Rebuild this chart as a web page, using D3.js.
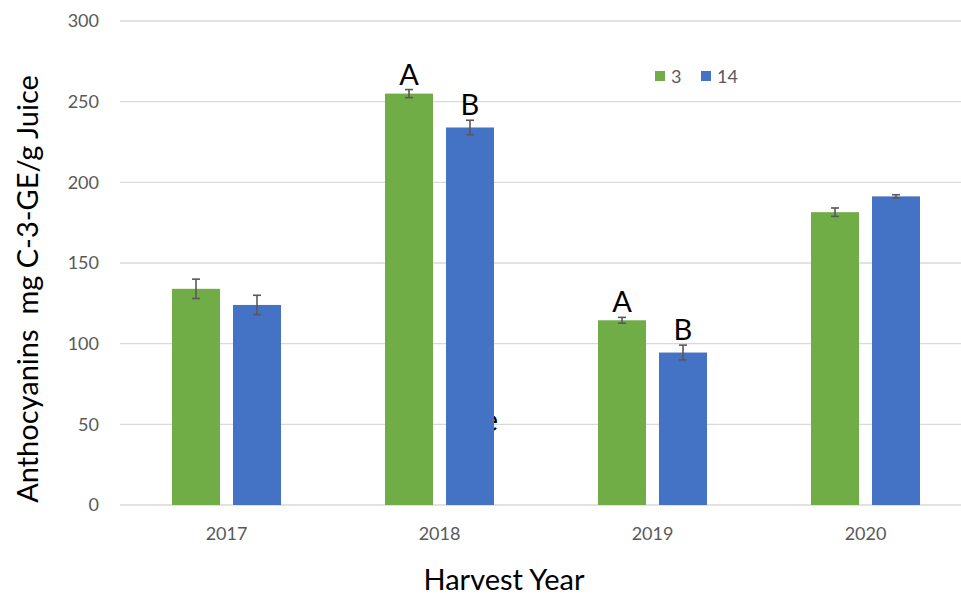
<!DOCTYPE html>
<html>
<head>
<meta charset="utf-8">
<script src="https://cdn.jsdelivr.net/npm/d3@7"></script>
<style>
  html, body { margin: 0; padding: 0; background: #fff; }
  svg { display: block; }
</style>
</head>
<body>
<svg id="chart" width="961" height="595"></svg>
<script>
// Harvest years and the two treatment series (mean anthocyanin content)
const years = ["2017", "2018", "2019", "2020"];
const seriesNames = ["3", "14"];
const values3 = [134, 255, 114.5, 181.5];
const values14 = [124, 234, 94.5, 191.3];
const errors3 = [6, 2.5, 1.8, 2.6];
const errors14 = [6, 4.5, 4.6, 1];
// Significance letters per year: [label over "3", label over "14"]
const letters = [null, ["A", "B"], ["A", "B"], null];
const yTicks = [0, 50, 100, 150, 200, 250, 300];

const colors = { "3": "#70AD47", "14": "#4472C4" };
const font = "Lato, 'Open Sans', sans-serif";

const svg = d3.select("#chart");
const W = 961;

// Category bands run past the right edge, so the last band is clipped like the original plot area
const x = d3.scaleBand().domain(years).range([120, 972]);
const xs = d3.scaleBand().domain(seriesNames).range([52, 161]).paddingInner(0.213).paddingOuter(0);
const y = d3.scaleLinear().domain([0, 300]).range([505, 21]);

// Gridlines
svg.append("g")
  .selectAll("line")
  .data(yTicks)
  .join("line")
  .attr("x1", 120).attr("x2", W)
  .attr("y1", d => y(d)).attr("y2", d => y(d))
  .attr("stroke", "#D9D9D9").attr("stroke-width", 1.3);

// Y axis tick labels
const yAxis = d3.axisLeft(y).tickValues(yTicks).tickSize(0).tickPadding(0);
const gy = svg.append("g").attr("transform", "translate(99,0)").call(yAxis);
gy.select(".domain").remove();
gy.selectAll("text")
  .attr("font-family", font).attr("font-size", 18).attr("fill", "#595959");

// X axis tick labels
const xAxis = d3.axisBottom(x).tickSize(0).tickPadding(0);
const gx = svg.append("g").attr("transform", "translate(0,527)").call(xAxis);
gx.select(".domain").remove();
gx.selectAll("text")
  .attr("font-family", font).attr("font-size", 18).attr("fill", "#595959");

// Stray glyph partly hidden behind the 2018 "14" bar
svg.append("text")
  .attr("x", x("2018") + xs("14") + xs.bandwidth() + 4)
  .attr("y", 431)
  .attr("text-anchor", "end")
  .attr("font-family", font).attr("font-size", 30).attr("fill", "#000")
  .text("e");

// Bars
const rows = years.map((yr, i) => ({
  year: yr,
  items: [
    { key: "3", v: values3[i], e: errors3[i] },
    { key: "14", v: values14[i], e: errors14[i] }
  ]
}));

const groups = svg.append("g").selectAll("g")
  .data(rows).join("g")
  .attr("transform", d => `translate(${x(d.year)},0)`);

groups.selectAll("rect")
  .data(d => d.items).join("rect")
  .attr("x", d => xs(d.key))
  .attr("width", xs.bandwidth())
  .attr("y", d => y(d.v))
  .attr("height", d => y(0) - y(d.v))
  .attr("fill", d => colors[d.key]);

// Error bars
const eb = groups.selectAll("g.err")
  .data(d => d.items).join("g").attr("class", "err")
  .attr("stroke", "#595959").attr("stroke-width", 1.6);
eb.append("line")
  .attr("x1", d => xs(d.key) + xs.bandwidth() / 2)
  .attr("x2", d => xs(d.key) + xs.bandwidth() / 2)
  .attr("y1", d => y(d.v + d.e)).attr("y2", d => y(d.v - d.e));
[1, -1].forEach(s => {
  eb.append("line")
    .attr("x1", d => xs(d.key) + xs.bandwidth() / 2 - 4)
    .attr("x2", d => xs(d.key) + xs.bandwidth() / 2 + 4)
    .attr("y1", d => y(d.v + s * d.e)).attr("y2", d => y(d.v + s * d.e));
});

// Significance letters
rows.forEach((r, i) => {
  if (!letters[i]) return;
  r.items.forEach((it, j) => {
    svg.append("text")
      .attr("x", x(r.year) + xs(it.key) + xs.bandwidth() / 2)
      .attr("y", y(it.v + it.e) - 5)
      .attr("text-anchor", "middle")
      .attr("font-family", font).attr("font-size", 29).attr("fill", "#000")
      .text(letters[i][j]);
  });
});

// Legend
const legend = svg.append("g").attr("transform", "translate(655,71)");
const legendItems = [{ k: "3", dx: 0 }, { k: "14", dx: 46 }];
legendItems.forEach(it => {
  legend.append("rect").attr("x", it.dx).attr("y", 0).attr("width", 10).attr("height", 10)
    .attr("fill", colors[it.k]);
  legend.append("text").attr("x", it.dx + 16).attr("y", 11.5)
    .attr("font-family", font).attr("font-size", 18).attr("fill", "#595959")
    .text(it.k);
});

// Axis titles
svg.append("text")
  .attr("transform", "translate(38,289) rotate(-90)")
  .attr("text-anchor", "middle")
  .attr("font-family", font).attr("font-size", 29).attr("fill", "#000")
  .style("white-space", "pre")
  .text("Anthocyanins  mg C-3-GE/g Juice");

svg.append("text")
  .attr("x", 504).attr("y", 590)
  .attr("text-anchor", "middle")
  .attr("font-family", font).attr("font-size", 29).attr("fill", "#000")
  .text("Harvest Year");
</script>
</body>
</html>
